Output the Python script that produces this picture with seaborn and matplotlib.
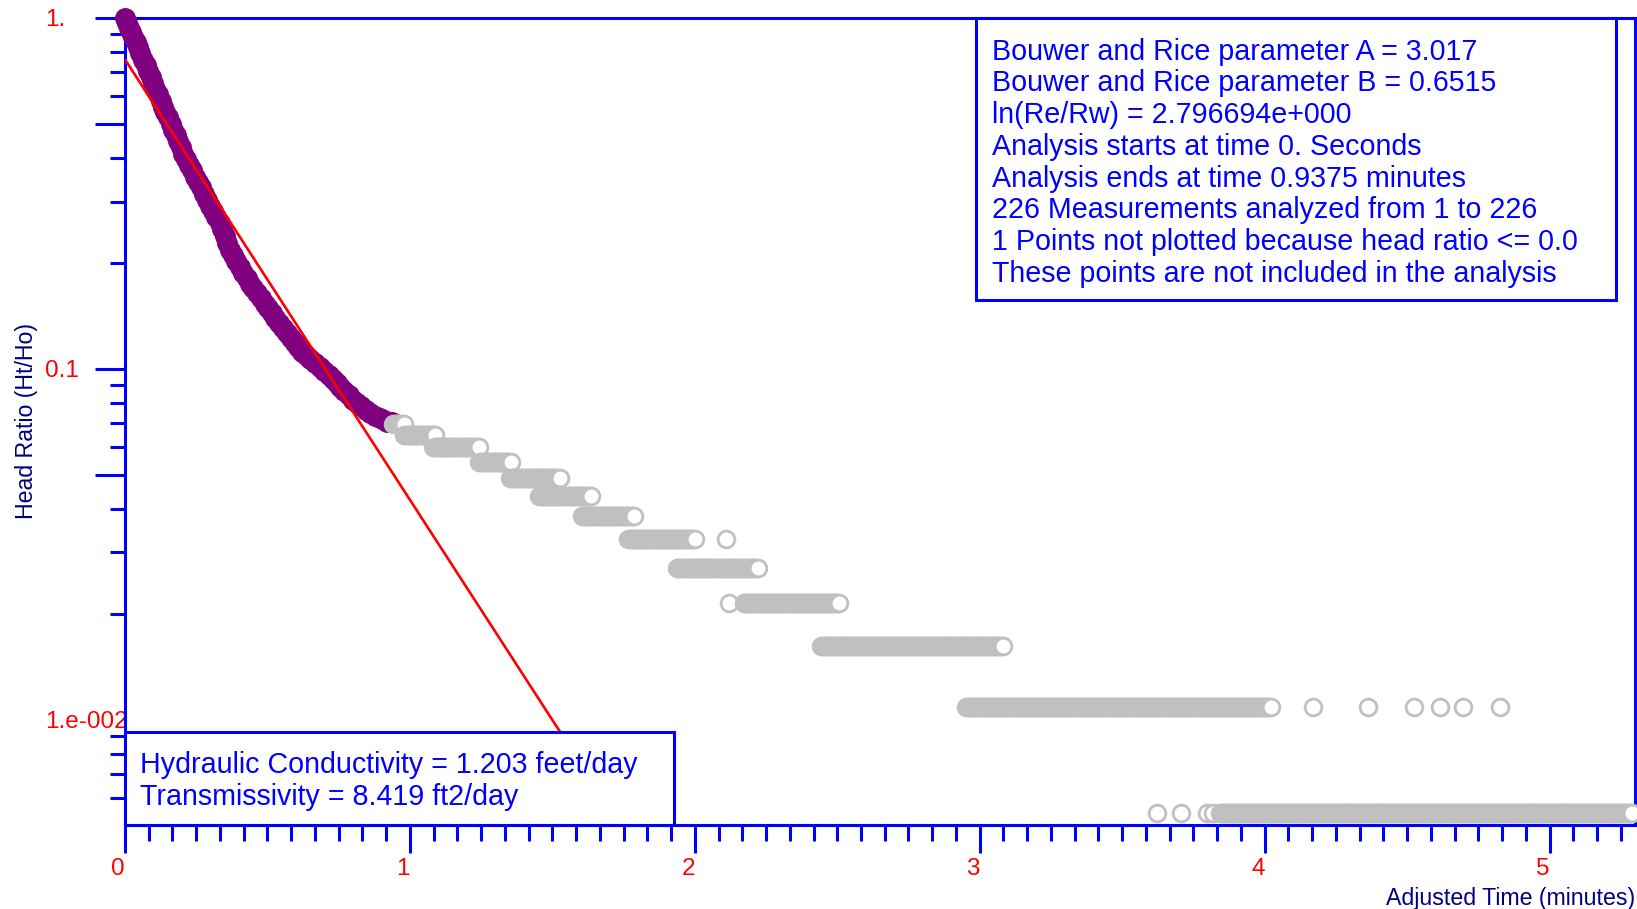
import numpy as np
import pandas as pd
import matplotlib
matplotlib.use("Agg")
import matplotlib.pyplot as plt
import seaborn as sns
from matplotlib.patches import Rectangle
from matplotlib.ticker import FixedLocator, LogLocator, MultipleLocator, NullFormatter

# slug test: head ratio vs adjusted time (minutes)
# analysed points (filled purple), 0 .. 0.9375 min, read along the plotted band
purple_t = [0.000, 0.008, 0.015, 0.022, 0.029, 0.037, 0.045, 0.054, 0.064, 0.072,
            0.080, 0.090, 0.099, 0.107, 0.115, 0.125, 0.134, 0.142, 0.150, 0.160,
            0.170, 0.178, 0.187, 0.196, 0.205, 0.215, 0.225, 0.235, 0.246, 0.255,
            0.265, 0.276, 0.287, 0.298, 0.310, 0.321, 0.333, 0.341, 0.350, 0.359,
            0.368, 0.379, 0.390, 0.402, 0.415, 0.427, 0.440, 0.451, 0.462, 0.476,
            0.490, 0.502, 0.515, 0.527, 0.540, 0.553, 0.567, 0.581, 0.595, 0.607,
            0.620, 0.635, 0.650, 0.667, 0.684, 0.700, 0.715, 0.729, 0.743, 0.756,
            0.770, 0.785, 0.801, 0.815, 0.830, 0.845, 0.860, 0.878, 0.895, 0.908,
            0.920, 0.930, 0.9375]
purple_h = [1.000, 0.967, 0.939, 0.912, 0.885, 0.855, 0.825, 0.793, 0.759, 0.733,
            0.708, 0.678, 0.651, 0.629, 0.607, 0.581, 0.559, 0.540, 0.522, 0.500,
            0.480, 0.463, 0.445, 0.428, 0.411, 0.396, 0.382, 0.368, 0.353, 0.341,
            0.329, 0.316, 0.303, 0.292, 0.281, 0.2705, 0.260, 0.2497, 0.239, 0.2284,
            0.218, 0.2107, 0.2034, 0.1955, 0.1874, 0.1813, 0.1749, 0.1696, 0.1644, 0.1589,
            0.1535, 0.1489, 0.144, 0.140, 0.1354, 0.131, 0.1264, 0.1225, 0.1186, 0.1153,
            0.112, 0.1094, 0.107, 0.1043, 0.1016, 0.0986, 0.0959, 0.0934, 0.0911, 0.0888,
            0.0865, 0.0841, 0.0816, 0.080, 0.0782, 0.0765, 0.0748, 0.0735, 0.0724, 0.0715,
            0.0706, 0.0706, 0.0706]

# later readings (hollow grey): runs of samples at one quantised head level
seg_h = [0.0697, 0.0648, 0.0601, 0.0544, 0.0488, 0.0435, 0.0381, 0.0327,
         0.0271, 0.0216, 0.01629, 0.01086, 0.00543]
seg_start = [0.942, 0.980, 1.080, 1.241, 1.352, 1.454, 1.604, 1.767,
             1.937, 2.173, 2.444, 2.951, 3.845]
seg_end = [0.979, 1.090, 1.242, 1.353, 1.526, 1.636, 1.789, 1.999,
           2.222, 2.505, 3.082, 4.022, 5.292]
# isolated readings
single_t = [2.111, 2.120, 3.623, 3.706, 3.797, 3.820,
            4.171, 4.364, 4.525, 4.616, 4.695, 4.827]
single_h = [0.0327, 0.0216, 0.00543, 0.00543, 0.00543, 0.00543,
            0.01086, 0.01086, 0.01086, 0.01086, 0.01086, 0.01086]
sample_dt = 0.9375 / 225  # 226 measurements over 0.9375 min

# fitted straight line (log head ratio vs time)
fit_t = [0.0, 1.6]
fit_h = [0.762, 0.00749]

info_lines = ["Bouwer and Rice parameter A = 3.017",
              "Bouwer and Rice parameter B = 0.6515",
              "ln(Re/Rw) = 2.796694e+000",
              "Analysis starts at time 0. Seconds",
              "Analysis ends at time 0.9375 minutes",
              "226 Measurements analyzed from 1 to 226",
              "1 Points not plotted because head ratio <= 0.0",
              "These points are not included in the analysis"]
result_lines = ["Hydraulic Conductivity = 1.203 feet/day",
                "Transmissivity = 8.419 ft2/day"]

# build the grey sample table
rows = []
for h, a, b in zip(seg_h, seg_start, seg_end):
    for t in np.arange(a, b + sample_dt / 2, sample_dt):
        rows.append((t, h))
rows += list(zip(single_t, single_h))
grey = pd.DataFrame(rows, columns=["t", "h"]).sort_values("t")
purple = pd.DataFrame({"t": purple_t, "h": purple_h})

sns.set_style("white")
plt.rcParams["font.family"] = ["Liberation Sans", "DejaVu Sans"]

W, H = 1637, 909
fig = plt.figure(figsize=(W / 100, H / 100), dpi=100)
L, R, T, B = 125, 1635, 18, 825
ax = fig.add_axes([L / W, 1 - B / H, (R - L) / W, (B - T) / H])

BLUE = "#0000FF"
NAVY = "#000080"

sns.scatterplot(data=purple, x="t", y="h", ax=ax, color="#800080", edgecolor="#800080",
                s=170, linewidth=2, clip_on=False, zorder=3)
sns.scatterplot(data=grey, x="t", y="h", ax=ax, color="white", edgecolor="#C0C0C0",
                s=145, linewidth=2, clip_on=False, zorder=3)
sns.lineplot(x=fit_t, y=fit_h, ax=ax, color="red", linewidth=1.9, zorder=4)

ax.set_yscale("log")
ax.set_xlim(0, 5.30)
ax.set_ylim(0.00502, 1.0)
ax.set_xlabel("")
ax.set_ylabel("")

for s in ax.spines.values():
    s.set_color(BLUE)
    s.set_linewidth(2.2)
    s.set_visible(True)

# y ticks
ax.yaxis.set_major_locator(FixedLocator([0.01, 0.05, 0.1, 0.5, 1.0]))
ax.set_yticklabels(["1.e-002", "", "0.1", "", "1."])
ax.yaxis.set_minor_locator(LogLocator(base=10, subs=[2, 3, 4, 6, 7, 8, 9]))
ax.yaxis.set_minor_formatter(NullFormatter())
ax.tick_params(axis="y", which="major", direction="out", length=21.6, width=2.2,
               color=BLUE, labelcolor="red", labelsize=17.5, pad=36, left=True)
ax.tick_params(axis="y", which="minor", direction="out", length=10.8, width=2.2,
               color=BLUE, left=True)
for lab in ax.get_yticklabels():
    lab.set_horizontalalignment("left")
    if lab.get_text() == "1.e-002":
        lab.set_bbox(dict(facecolor="white", edgecolor="none", pad=0.5))

# x ticks
ax.set_xticks([0, 1, 2, 3, 4, 5])
ax.set_xticklabels(["0", "1", "2", "3", "4", "5"])
ax.xaxis.set_minor_locator(MultipleLocator(1 / 12))
ax.tick_params(axis="x", which="major", direction="out", length=20, width=2.2,
               color=BLUE, labelcolor="red", labelsize=17.5, pad=4, bottom=True)
ax.tick_params(axis="x", which="minor", direction="out", length=11.5, width=2.2,
               color=BLUE, bottom=True)
for lab in ax.get_xticklabels():
    lab.set_horizontalalignment("right")

# info box (top right)
bx0, bx1, by0 = 976, 1616, 300
ax.add_patch(Rectangle(((bx0 - L) / (R - L), (B - by0) / (B - T)),
                       (bx1 - bx0) / (R - L), (by0 - T) / (B - T),
                       transform=ax.transAxes, facecolor="white", edgecolor=BLUE,
                       linewidth=2.2, zorder=5, clip_on=False))
for i, line in enumerate(info_lines):
    fig.text(992 / W, 1 - (59.5 + 31.8 * i) / H, line, color=BLUE, fontsize=20.6,
             ha="left", va="baseline", zorder=6)

# result box (bottom left)
rx1, ry0 = 674, 732
ax.add_patch(Rectangle((0, 0), (rx1 - L) / (R - L), (B - ry0) / (B - T),
                       transform=ax.transAxes, facecolor="white", edgecolor=BLUE,
                       linewidth=2.2, zorder=5, clip_on=False))
for i, line in enumerate(result_lines):
    fig.text(140 / W, 1 - (773 + 32 * i) / H, line, color=BLUE, fontsize=20.6,
             ha="left", va="baseline", zorder=6)

fig.text(27 / W, 1 - 421 / H, "Head Ratio (Ht/Ho)", rotation=90, color=NAVY,
         fontsize=16.7, ha="center", va="center")
fig.text(1635 / W, 1 - 898 / H, "Adjusted Time (minutes)", color=NAVY,
         fontsize=16.7, ha="right", va="center")

fig.savefig("out.png", dpi=100)
